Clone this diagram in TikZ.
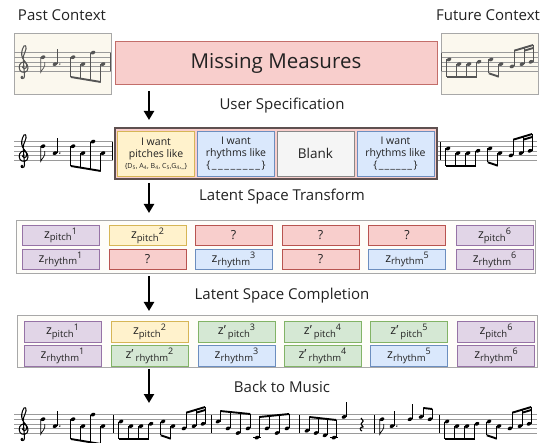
\documentclass[tikz,border=0pt]{standalone}
\usepackage{fontspec}
\setmainfont{Open Sans}
\usetikzlibrary{arrows.meta}
\definecolor{purF}{HTML}{E1D5E7}
\definecolor{purD}{HTML}{9673A6}
\definecolor{yelF}{HTML}{FFF2CC}
\definecolor{yelD}{HTML}{D6B656}
\definecolor{redF}{HTML}{F8CECC}
\definecolor{redD}{HTML}{B85450}
\definecolor{bluF}{HTML}{DAE8FC}
\definecolor{bluD}{HTML}{6C8EBF}
\definecolor{grnF}{HTML}{D5E8D4}
\definecolor{grnD}{HTML}{82B366}
\definecolor{gryF}{HTML}{F5F5F5}
\definecolor{gryD}{HTML}{888888}
\definecolor{crmF}{HTML}{FBF8EE}
\definecolor{crmD}{HTML}{A8A8A8}
\definecolor{latF}{HTML}{FEFDF9}
\definecolor{txtc}{HTML}{222222}
\definecolor{spcD}{HTML}{5E5050}
\definecolor{stfc}{HTML}{9A9A9A}
\definecolor{fadec}{HTML}{555555}

% ---------- music helpers (local coords: bottom staff line at y=0, y grows downward) ----------
\newcommand\mhead[2]{\pgfmathsetmacro\hy{-(#2)*2.3}\fill[rotate around={25:(#1,\hy)}] (#1,\hy) ellipse (2.5 and 1.75);}
\newcommand\mledger[1]{\draw[line width=0.5pt] (#1-3.8,4.6) -- (#1+3.8,4.6);}
\newcommand\qup[2]{\mhead{#1}{#2}\pgfmathsetmacro\sx{#1+2.2}\pgfmathsetmacro\sy{-(#2)*2.3}\draw[stemln] (\sx,\sy) -- (\sx,\sy-15);}
\newcommand\edn[2]{\mhead{#1}{#2}\pgfmathsetmacro\sx{#1-2.2}\pgfmathsetmacro\sy{-(#2)*2.3}\draw[stemln] (\sx,\sy) -- (\sx,\sy+15) .. controls (\sx+1,\sy+12) and (\sx+5,\sy+10) .. (\sx+4,\sy+5);}
\newcommand\mdot[2]{\pgfmathsetmacro\sy{-(#2)*2.3}\fill (#1+4.8,\sy) circle (0.8);}
\newcommand\barl[1]{\draw[line width=0.8pt] (#1,0) -- (#1,-18.4);}
\newcommand\stlines[2]{\foreach \k in {0,...,4}{\draw[staffl] (#1,-\k*4.6) -- (#2,-\k*4.6);}}
\newcommand\qrest[1]{\draw[line width=1.1pt,line join=round] (#1,-15) -- (#1+2.2,-12) -- (#1,-9) -- (#1+2.2,-6) .. controls (#1-1.5,-6.5) and (#1-1.5,-2.5) .. (#1+1,-2);}
% beam group: #1 stem side (1 up / -1 down), #2 first x, #3 beam y there, #4 last x, #5 beam y there, #6 list x/step
\newcommand\bmgrp[6]{%
  \def\dsign{#1}%
  \foreach \xx/\ss in {#6}{%
    \mhead{\xx}{\ss}%
    \pgfmathsetmacro\sx{\xx+\dsign*2.2}%
    \pgfmathsetmacro\hy{-(\ss)*2.3}%
    \pgfmathsetmacro\bmy{(#3)+(\xx-(#2))*((#5)-(#3))/((#4)-(#2))}%
    \draw[stemln] (\sx,\hy) -- (\sx,\bmy);%
  }%
  \pgfmathsetmacro\bxa{#2+\dsign*2.2}\pgfmathsetmacro\bxb{#4+\dsign*2.2}%
  \draw[beamln] (\bxa,#3) -- (\bxb,#5);%
}
\newcommand\tclef[1]{\begin{scope}[shift={(#1,0)},yscale=-1]
 \draw[line width=1.05pt] (0.8,5.5) .. controls (-1,5.5) and (-1,2.2) .. (1.2,2.2)
   .. controls (4.5,2.2) and (4.8,8.5) .. (1,9)
   .. controls (-3,9.5) and (-5,4) .. (-3,0.5)
   .. controls (-1,-2.5) and (5,-2) .. (5,3)
   .. controls (5,7.5) and (1,9.5) .. (-0.5,13)
   .. controls (-2,16.5) and (-1.5,21) .. (1,25)
   .. controls (2,26.5) and (3.3,25) .. (3,22)
   .. controls (2.7,19) and (0.5,17) .. (0.2,13)
   -- (1.5,-5) .. controls (1.7,-8) and (-2,-8.5) .. (-2,-6);
 \fill (-1,-6) circle (1.3);
\end{scope}}
\newcommand\measA{\tclef{9}\edn{29}{6}\qup{41}{3}\mdot{41}{3}\bmgrp{-1}{59}{6}{89}{11}{59/6,69/3,79/8,89/3}}
\newcommand\measB{\barl{0}\bmgrp{-1}{8}{5.7}{38}{5.7}{8/5,18/3,28/3,38/4}\bmgrp{-1}{50}{2.3}{60}{5.7}{50/5,60/3}\bmgrp{1}{71}{-20.3}{90}{-26}{71/2,81/3,90/4}\draw[beamln] (83.2,-20.3) -- (92.2,-23);}
% ---------- latent labels ----------
\newcommand\zl[3]{z#1\raisebox{-2.6pt}{\fontsize{9.5}{9.5}\selectfont #2}\raisebox{4.2pt}{\fontsize{9}{9}\selectfont #3}}

\begin{document}
\begin{tikzpicture}[x=1pt,y=-1pt,
  hd/.style={font=\fontsize{15}{18}\selectfont, text=txtc, inner sep=0pt},
  ctxbox/.style={draw=crmD, fill=crmF, line width=0.8pt, inner sep=0pt, minimum width=97pt, minimum height=61pt},
  missbox/.style={draw=redD!85, fill=redF, line width=1pt, minimum width=322pt, minimum height=43pt, font=\fontsize{20.5}{24}\selectfont, text=txtc, inner sep=0pt},
  specbox/.style={draw=spcD, fill=redF, line width=1.3pt, minimum width=322pt, minimum height=51pt, inner sep=0pt},
  ibox/.style={line width=0.8pt, minimum width=77pt, minimum height=45pt, inner sep=0pt, align=center, text=txtc, font=\fontsize{10.5}{12}\selectfont},
  latbox/.style={draw=crmD, fill=latF, line width=0.8pt, inner sep=0pt},
  cell/.style={line width=0.8pt, minimum width=77pt, minimum height=20.5pt, inner sep=0pt, text=txtc, font=\fontsize{12.5}{14}\selectfont},
  cpur/.style={cell, draw=purD, fill=purF},
  cyel/.style={cell, draw=yelD, fill=yelF},
  cred/.style={cell, draw=redD, fill=redF},
  cblu/.style={cell, draw=bluD, fill=bluF},
  cgrn/.style={cell, draw=grnD, fill=grnF},
  bigarrow/.style={line width=2.3pt, -{Triangle[length=9pt,width=10pt]}},
  staffl/.style={line width=0.5pt, draw=stfc},
  stemln/.style={line width=0.7pt},
  beamln/.style={line width=1.9pt}]
\useasboundingbox (0,0) rectangle (546,443);
\fill[white] (0,0) rectangle (546,443);

% ---------------- row 1 ----------------
\node[hd, anchor=base] (pastlbl) at (62,20.5) {Past Context};
\node[hd, anchor=base] (futlbl) at (488,20.5) {Future Context};
\node[ctxbox] (past) at (62.5,63.5) {};
\node[missbox] (miss) at (276,63.5) {Missing Measures};
\node[ctxbox] (fut) at (489.5,63.5) {};
\begin{scope}[shift={(14,71)}, color=fadec]
  \stlines{0}{97}\measA\barl{96}
\end{scope}
\begin{scope}[shift={(441,71)}, color=fadec]
  \stlines{0}{97}\measB
\end{scope}

\coordinate (a1s) at (149,91); \coordinate (a1e) at (149,120);
\draw[bigarrow] (a1s) -- (a1e);
\node[hd, anchor=base] (lbl1) at (282,110) {User Specification};

% ---------------- row 2 ----------------
\node[specbox] (spec) at (276,153.5) {};
\node[ibox, draw=yelD, fill=yelF] (ys) at (156,153.5) {I want\\pitches like\\[-1pt]{\fontsize{7}{8}\selectfont\{D\textsubscript{5}, A\textsubscript{4}, B\textsubscript{4}, C\textsubscript{5},G\textsubscript{4},\_\}}};
\node[ibox, draw=bluD, fill=bluF] (bs1) at (236,153.5) {I want\\rhythms like\\\{\kern1.5pt\_\kern1.5pt\_\kern1.5pt\_\kern1.5pt\_\kern1.5pt\_\kern1.5pt\_\kern1.5pt\_\kern1.5pt\_\kern1.5pt\}};
\node[ibox, draw=gryD, fill=gryF, font=\fontsize{13.5}{16}\selectfont] (blank) at (315.5,153.5) {Blank};
\node[ibox, draw=bluD, fill=bluF] (bs2) at (395.5,153.5) {I want\\rhythms like\\\{\kern1.5pt\_\kern1pt\_\kern1pt\_\kern1pt\_\kern1pt\_\kern1pt\_\kern1.5pt\}};
\begin{scope}[shift={(14,160)}]
  \stlines{0}{99}\measA\barl{98}
\end{scope}
\begin{scope}[shift={(440,160)}]
  \stlines{-2}{97}\measB
\end{scope}

\coordinate (a2s) at (149,183); \coordinate (a2e) at (149,213);
\draw[bigarrow] (a2s) -- (a2e);
\node[hd, anchor=base] (lbl2) at (282,201) {Latent Space Transform};

% ---------------- row 3 ----------------
\node[latbox, minimum width=519pt, minimum height=53pt] (lat1) at (275.5,246.5) {};
\node[cpur] (p1) at (60.5,235.5) {\zl{}{pitch}{1}};
\node[cyel] (p2) at (147.5,235.5) {\zl{}{pitch}{2}};
\node[cred] (p3) at (233.5,235.5) {?};
\node[cred] (p4) at (320.5,235.5) {?};
\node[cred] (p5) at (407,235.5) {?};
\node[cpur] (p6) at (494.5,235.5) {\zl{}{pitch}{6}};
\node[cpur] (r1) at (60.5,259.5) {\zl{}{rhythm}{1}};
\node[cred] (r2) at (147.5,259.5) {?};
\node[cblu] (r3) at (233.5,259.5) {\zl{}{rhythm}{3}};
\node[cred] (r4) at (320.5,259.5) {?};
\node[cblu] (r5) at (407,259.5) {\zl{}{rhythm}{5}};
\node[cpur] (r6) at (494.5,259.5) {\zl{}{rhythm}{6}};

\coordinate (a3s) at (149,276); \coordinate (a3e) at (149,311);
\draw[bigarrow] (a3s) -- (a3e);
\node[hd, anchor=base] (lbl3) at (282,300) {Latent Space Completion};

% ---------------- row 4 ----------------
\node[latbox, minimum width=520pt, minimum height=52pt] (lat2) at (277,341) {};
\node[cpur] (q1) at (62.5,332) {\zl{}{pitch}{1}};
\node[cyel] (q2) at (149.5,332) {\zl{}{pitch}{2}};
\node[cgrn] (q3) at (236.5,332) {\zl{'\,}{pitch}{3}};
\node[cgrn] (q4) at (322.5,332) {\zl{'\,}{pitch}{4}};
\node[cgrn] (q5) at (409,332) {\zl{'\,}{pitch}{5}};
\node[cpur] (q6) at (496,332) {\zl{}{pitch}{6}};
\node[cpur] (s1) at (62.5,356) {\zl{}{rhythm}{1}};
\node[cgrn] (s2) at (149.5,356) {\zl{'\,}{rhythm}{2}};
\node[cblu] (s3) at (236.5,356) {\zl{}{rhythm}{3}};
\node[cgrn] (s4) at (322.5,356) {\zl{'\,}{rhythm}{4}};
\node[cblu] (s5) at (409,356) {\zl{}{rhythm}{5}};
\node[cpur] (s6) at (496,356) {\zl{}{rhythm}{6}};

\coordinate (a4s) at (149,369); \coordinate (a4e) at (149,403);
\draw[bigarrow] (a4s) -- (a4e);
\node[hd, anchor=base] (lbl4) at (282,392.5) {Back to Music};

% ---------------- row 5: full music ----------------
\begin{scope}[shift={(0,433)}]
  \stlines{14}{537}
  \begin{scope}[shift={(14,0)}]\measA\end{scope}
  \begin{scope}[shift={(113,0)}]\measB\end{scope}
  \barl{211}
  \bmgrp{1}{218}{-22}{248}{-19}{218/5,228/2,238/0,248/2}
  \mledger{257}
  \bmgrp{1}{257}{-16}{287}{-19}{257/-2,267/2,277/0,287/2}
  \barl{299}
  \bmgrp{1}{307}{-16}{334}{-13}{307/1,316/0,325/-1,334/-2}
  \mledger{334}
  \qup{344}{7}
  \qrest{361}
  \barl{374}
  \edn{382}{6}
  \qup{392}{3}\mdot{392}{3}
  \qup{410}{6}
  \bmgrp{1}{421}{-25}{430}{-24}{421/7,430/6}
  \begin{scope}[shift={(439,0)}]\measB\end{scope}
\end{scope}
\end{tikzpicture}
\end{document}
